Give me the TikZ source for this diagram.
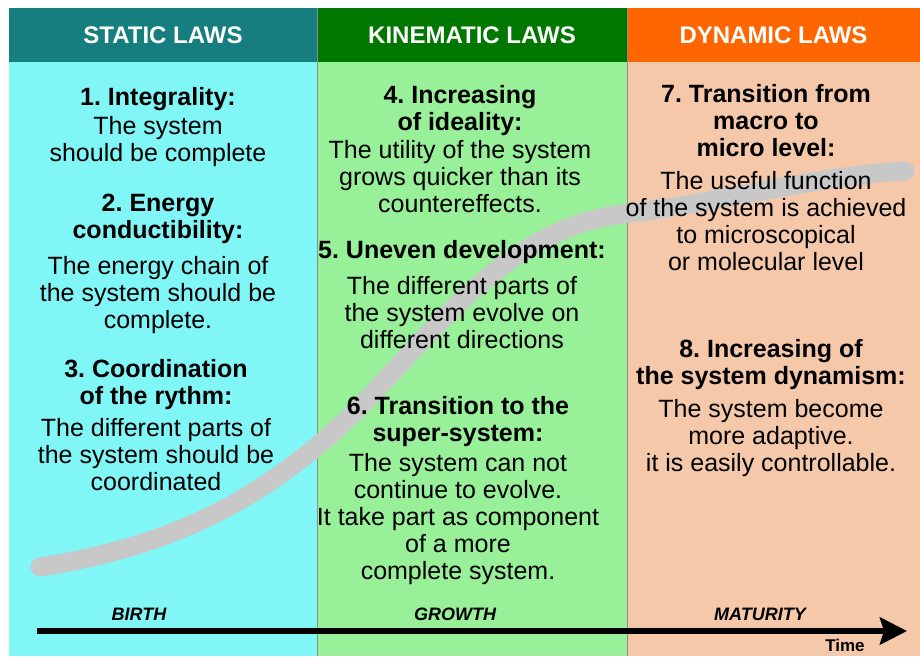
\documentclass[tikz,border=0pt]{standalone}
\usepackage{fontspec}
\setmainfont{Liberation Sans}
\usetikzlibrary{positioning,arrows.meta}
\definecolor{staticband}{RGB}{22,126,126}
\definecolor{kineband}{RGB}{0,120,0}
\definecolor{dynband}{RGB}{255,102,0}
\definecolor{staticbody}{RGB}{128,246,246}
\definecolor{kinebody}{RGB}{152,240,152}
\definecolor{dynbody}{RGB}{246,200,170}
\definecolor{curvegray}{RGB}{200,200,200}
\frenchspacing

\begin{document}
\begin{tikzpicture}[x=1pt,y=1pt]
\tikzstyle{band}=[rectangle, minimum height=54pt, inner sep=0pt, text=white, font=\fontsize{24}{26}\selectfont\bfseries]
\tikzstyle{law}=[align=center, inner sep=0pt, font=\fontsize{25}{27}\selectfont\bfseries]
\tikzstyle{expl}=[align=center, inner sep=0pt, font=\fontsize{25}{27}\selectfont]
\tikzstyle{stage}=[inner sep=0pt, font=\fontsize{18}{20}\selectfont\bfseries\itshape]
\tikzstyle{divider}=[black!45, line width=0.8pt]
\tikzstyle{curve}=[curvegray, line width=19pt, line cap=round]
\tikzstyle{timeline}=[-{Stealth[length=27pt,width=27pt,inset=4pt]}, line width=6pt]
  \useasboundingbox (0,0) rectangle (920,-656);
  \fill[staticbody] (9,-62) rectangle (317,-656);
  \fill[kinebody] (317,-62) rectangle (627,-656);
  \fill[dynbody] (627,-62) rectangle (920,-656);
  \node[band, fill=staticband, minimum width=308pt] (hstatic) at (163,-35) {STATIC LAWS};
  \node[band, fill=kineband, minimum width=310pt] (hkine) at (472,-35) {KINEMATIC LAWS};
  \node[band, fill=dynband, minimum width=293pt] (hdyn) at (773.5,-35) {DYNAMIC LAWS};
  \draw[divider] (317,-8) -- (317,-656);
  \draw[divider] (627,-8) -- (627,-656);
  \draw[curve] (40,-567) .. controls (180,-545) and (268,-495) .. (353,-414)
      .. controls (440,-325) and (510,-225) .. (630,-213)
      .. controls (700,-206) and (820,-175) .. (905,-171);
  \node[law] (t1) at (158,-99.5) {1. Integrality:};
  \node[expl] (b1) [below=4.7pt of t1] {The system\\should be complete};
  \node[law] (t2) at (158,-219) {2. Energy\\conductibility:};
  \node[expl] (b2) [below=11.7pt of t2] {The energy chain of\\the system should be\\complete.};
  \node[law] (t3) at (156,-385) {3. Coordination\\of the rythm:};
  \node[expl] (b3) [below=7.7pt of t3] {The different parts of\\the system should be\\coordinated};
  \node[law] (t4) at (460,-111) {4. Increasing\\of ideality:};
  \node[expl] (b4) [below=3.7pt of t4] {The utility of the system\\grows quicker than its\\countereffects.};
  \node[law] (t5) at (462,-252.5) {5. Uneven development:};
  \node[expl] (b5) [below=11.7pt of t5] {The different parts of\\the system evolve on\\different directions};
  \node[law] (t6) at (458,-421.5) {6. Transition to the\\super-system:};
  \node[expl] (b6) [below=6.7pt of t6] {The system can not\\continue to evolve.\\It take part as component\\of a more\\complete system.};
  \node[law] (t7) at (766,-121) {7. Transition from\\macro to\\micro level:};
  \node[expl] (b7) [below=14pt of t7] {The useful function\\of the system is achieved\\to microscopical\\or molecular level};
  \node[law] (t8) at (771,-365) {8. Increasing of\\the system dynamism:};
  \node[expl] (b8) [below=8.7pt of t8] {The system become\\more adaptive.\\it is easily controllable.};
  \node[stage] (birth) at (139,-614) {BIRTH};
  \node[stage] (growth) at (455,-614) {GROWTH};
  \node[stage] (maturity) at (760,-614) {MATURITY};
  \node[inner sep=0pt, font=\fontsize{17}{19}\selectfont\bfseries] (time) at (845,-645) {Time};
  \coordinate (tstart) at (37,-631);
  \coordinate (tend) at (907,-631);
  \draw[timeline] (tstart) -- (tend);
\end{tikzpicture}
\end{document}
